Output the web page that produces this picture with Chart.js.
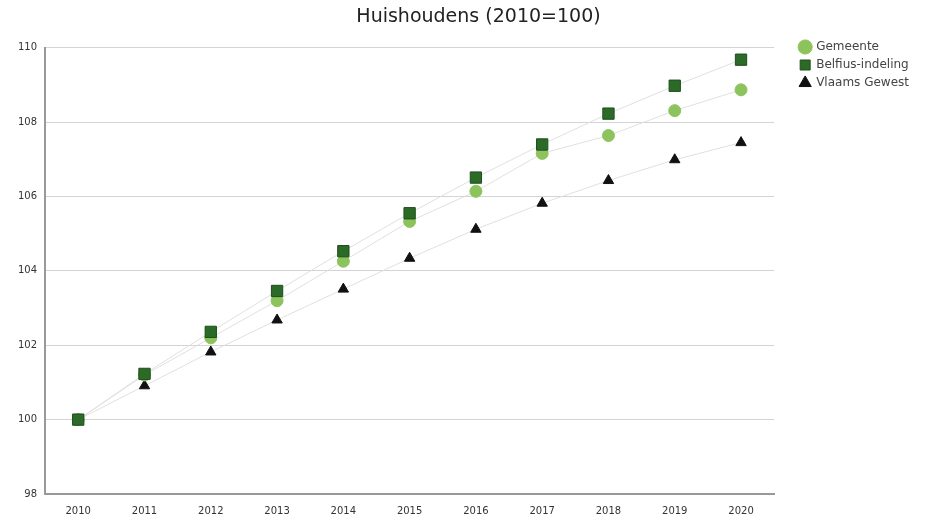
<!DOCTYPE html>
<html>
<head>
<meta charset="utf-8">
<script src="https://cdn.jsdelivr.net/npm/chart.js@4"></script>
<style>
  html, body { margin: 0; padding: 0; background: #fff; }
  #wrap { width: 925px; height: 520px; }
</style>
</head>
<body>
<div id="wrap"><canvas id="chart"></canvas></div>
<script>
// data
var years = ['2010','2011','2012','2013','2014','2015','2016','2017','2018','2019','2020'];
var gemeente = [100, 101.2, 102.2, 103.2, 104.26, 105.33, 106.14, 107.16, 107.64, 108.31, 108.87];
var belfius = [100, 101.23, 102.36, 103.46, 104.53, 105.55, 106.51, 107.4, 108.23, 108.98, 109.68];
var vlaams = [100, 100.91, 101.82, 102.68, 103.51, 104.34, 105.12, 105.82, 106.43, 106.99, 107.45];

var font = 'DejaVu Sans';

// push legend entries right of the plot, and centre the title like the original
var boxShift = {
  id: 'boxShift',
  afterLayout: function(chart) {
    chart.legend.left += 20;
    chart.legend.right += 20;
    chart.titleBlock.left += 24;
    chart.titleBlock.right += 24;
  }
};

var ctx = document.getElementById('chart').getContext('2d');
var chart = new Chart(ctx, {
  type: 'line',
  data: {
    labels: years,
    datasets: [{
      label: 'Gemeente',
      data: gemeente,
      order: 1,
      borderColor: '#e0e0e0',
      borderWidth: 1,
      backgroundColor: '#8dc35c',
      pointBackgroundColor: '#8dc35c',
      pointBorderColor: '#8dc35c',
      pointStyle: 'circle',
      pointRadius: 6
    }, {
      label: 'Belfius-indeling',
      data: belfius,
      order: 0,
      borderColor: '#e0e0e0',
      borderWidth: 1,
      backgroundColor: '#2b6a27',
      pointBackgroundColor: '#2b6a27',
      pointBorderColor: '#1e4f1b',
      pointStyle: 'rect',
      pointRadius: 8
    }, {
      label: 'Vlaams Gewest',
      data: vlaams,
      order: 2,
      borderColor: '#e0e0e0',
      borderWidth: 1,
      backgroundColor: '#111',
      pointBackgroundColor: '#111',
      pointBorderColor: '#111',
      pointStyle: 'triangle',
      pointRadius: 6
    }]
  },
  plugins: [boxShift],
  options: {
    responsive: true,
    maintainAspectRatio: false,
    animation: false,
    layout: { padding: { left: 10, right: 26, top: 6, bottom: 0 } },
    plugins: {
      title: {
        display: true,
        text: 'Huishoudens (2010=100)',
        color: '#222',
        font: { family: font, size: 19, weight: 'normal' },
        padding: { top: 0, bottom: 19 }
      },
      legend: {
        position: 'right',
        align: 'start',
        title: {
          display: true,
          text: ' ',
          font: { size: 10 },
          padding: { top: 17, bottom: 0 }
        },
        labels: {
          usePointStyle: true,
          boxWidth: 10,
          boxHeight: 10,
          padding: 6,
          color: '#444',
          font: { family: font, size: 12 },
          sort: function(a, b) { return a.datasetIndex - b.datasetIndex; }
        }
      },
      tooltip: { enabled: false }
    },
    scales: {
      x: {
        offset: true,
        grid: { display: false },
        border: { color: '#999', width: 2 },
        ticks: { color: '#333', padding: 3, font: { family: font, size: 10 } }
      },
      y: {
        min: 98,
        max: 110,
        ticks: { stepSize: 2, color: '#333', padding: 8, font: { family: font, size: 10 } },
        grid: { color: '#d4d4d4', drawTicks: false },
        border: { color: '#999', width: 2 }
      }
    }
  }
});
</script>
</body>
</html>
